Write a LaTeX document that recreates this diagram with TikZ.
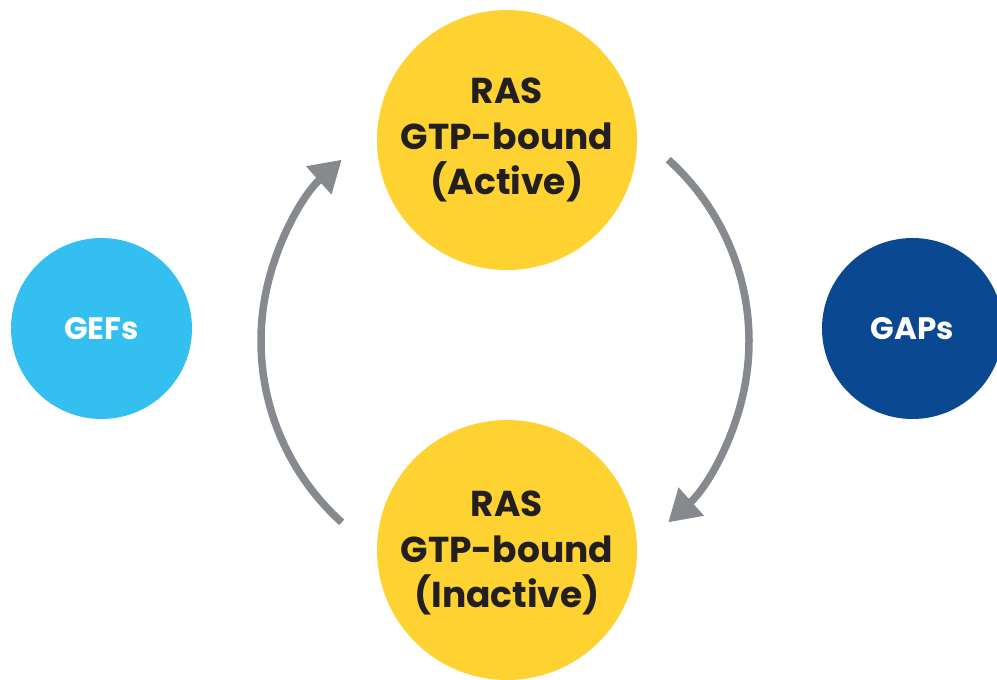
\documentclass[tikz,border=0pt]{standalone}
\usepackage{fontspec}
\setmainfont{Poppins}[UprightFont=* SemiBold, BoldFont=* Bold]
\usetikzlibrary{arrows.meta}
\definecolor{rasyellow}{HTML}{FDD231}
\definecolor{gefblue}{HTML}{33BFEF}
\definecolor{gapblue}{HTML}{0B4892}
\definecolor{arrowgray}{HTML}{868A8F}
\definecolor{textdark}{HTML}{231F20}
\begin{document}
\begin{tikzpicture}[x=1pt,y=-1pt,
  rascircle/.style={circle,fill=rasyellow,minimum size=260pt,inner sep=0pt},
  regcircle/.style={circle,minimum size=181pt,inner sep=0pt,text=white,
    font=\fontsize{31}{36}\selectfont\bfseries},
  rastext/.style={align=center,text=textdark,
    font=\fontsize{36}{45.5}\selectfont\bfseries},
  cyclearrow/.style={draw=arrowgray,line width=7.5pt,
    -{Triangle[length=31pt,width=36pt]}}]
\useasboundingbox (0,0) rectangle (997,680);
\node[rascircle] (active) at (507,140) {};
\node[rascircle] (inactive) at (507,550) {};
\node[rastext] (activetxt) at (507,140) {RAS\\GTP-bound\\(Active)};
\node[rastext] (inactivetxt) at (507,553) {RAS\\GTP-bound\\(Inactive)};
\node[regcircle,fill=gefblue] (gefs) at (101.5,328.5) {GEFs};
\node[regcircle,fill=gapblue] (gaps) at (912.5,328.5) {GAPs};
\coordinate (cyc) at (505,341);
\path (cyc) ++(132:244) coordinate (gefstart);
\path (cyc) ++(-48:244) coordinate (gapstart);
\draw[cyclearrow] (gefstart) arc[start angle=132,end angle=228,radius=244];
\draw[cyclearrow] (gapstart) arc[start angle=-48,end angle=48,radius=244];
\end{tikzpicture}
\end{document}
